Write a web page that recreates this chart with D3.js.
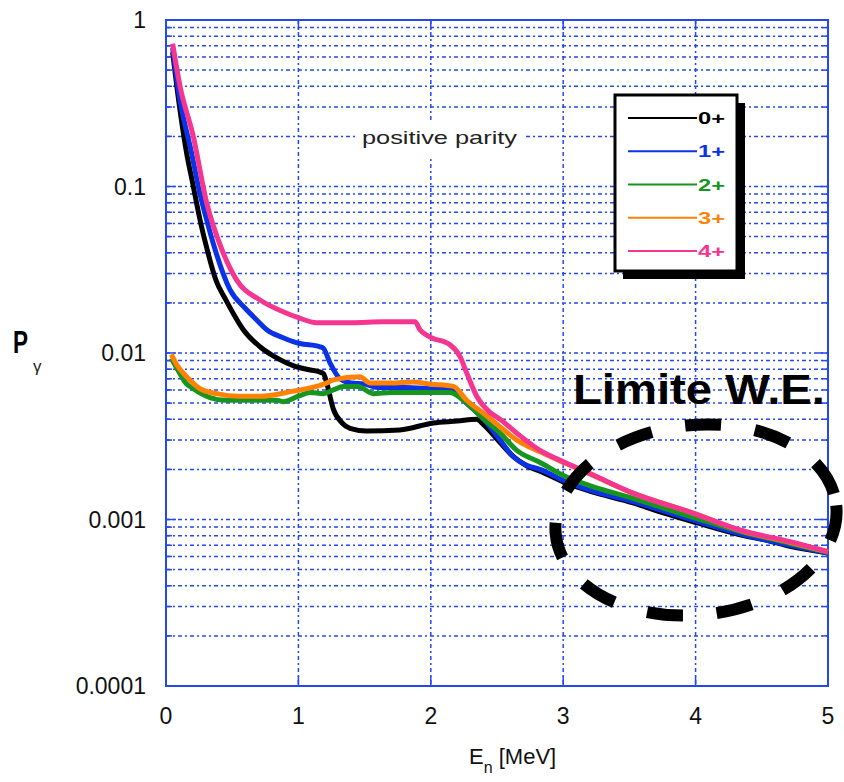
<!DOCTYPE html>
<html>
<head>
<meta charset="utf-8">
<script src="https://cdn.jsdelivr.net/npm/d3@7"></script>
<style>
  html, body { margin: 0; padding: 0; background: #fff; }
  svg { display: block; font-family: "Liberation Sans", Arial, Helvetica, sans-serif; }
</style>
</head>
<body>
<svg id="chart" width="844" height="782"></svg>
<script>
// ---- data ----
const seriesNames = ["0+", "1+", "2+", "3+", "4+"];
const seriesColors = ["#000000", "#0b32e6", "#16961f", "#ff8205", "#f5358f"];

const E_0plus = [0.05,0.10,0.156,0.2,0.257,0.31,0.38,0.45,0.506,0.584,0.71,0.82,0.912,0.96,1.09,1.16,1.19,1.214,1.264,1.33,1.39,1.516,1.767,2.019,2.2,2.347,2.4,2.523,2.62,2.724,2.825,3.026,3.2,3.527,3.75,4.0,4.335,4.537,4.713,5.0];
const P_0plus = [0.64,0.31,0.158,0.106,0.063,0.042,0.027,0.021,0.0174,0.0138,0.0109,0.0095,0.0087,0.0084,0.0079,0.0077,0.0075,0.0066,0.0046,0.0038,0.00353,0.0034,0.00345,0.0038,0.0039,0.0040,0.0037,0.0029,0.0024,0.0021,0.00195,0.00165,0.00148,0.00126,0.00110,0.00096,0.00081,0.00075,0.00069,0.00063];

const E_1plus = [0.05,0.10,0.194,0.25,0.307,0.37,0.483,0.6,0.685,0.761,0.88,0.961,1.012,1.163,1.188,1.239,1.314,1.40,1.5,1.6,1.8,2.0,2.17,2.27,2.4,2.523,2.62,2.724,2.825,3.026,3.2,3.527,4.0,4.335,4.713,5.0];
const P_1plus = [0.68,0.35,0.158,0.095,0.063,0.042,0.024,0.0185,0.0158,0.0138,0.0124,0.0117,0.0114,0.0109,0.0107,0.0087,0.0070,0.0066,0.0065,0.0062,0.0062,0.0061,0.0060,0.0050,0.0040,0.0030,0.0024,0.00212,0.00200,0.00168,0.00150,0.00128,0.00098,0.00082,0.00070,0.000632];

const E_2plus = [0.04,0.106,0.15,0.206,0.332,0.45,0.6,0.836,0.884,1.0,1.088,1.186,1.264,1.339,1.45,1.566,1.7,1.868,2.145,2.271,2.4,2.523,2.65,2.825,3.026,3.2,3.527,4.0,4.335,4.713,5.0];
const P_2plus = [0.0093,0.0075,0.0066,0.0061,0.0054,0.0052,0.0052,0.0052,0.0051,0.0055,0.0058,0.0057,0.0060,0.0063,0.0063,0.0057,0.0058,0.0058,0.0058,0.0050,0.0040,0.0033,0.0026,0.0022,0.00180,0.00160,0.00134,0.00102,0.00085,0.00072,0.000635];

const E_3plus = [0.04,0.081,0.156,0.257,0.383,0.55,0.71,0.961,1.012,1.214,1.264,1.465,1.541,1.7,1.868,2.0,2.17,2.271,2.422,2.523,2.65,2.825,3.026,3.2,3.527,4.0,4.335,4.713,5.0];
const P_3plus = [0.0098,0.0085,0.0072,0.0061,0.0057,0.0055,0.0055,0.0059,0.0060,0.0066,0.0069,0.0072,0.0066,0.0066,0.0067,0.0065,0.0063,0.0052,0.0042,0.0036,0.0030,0.00255,0.00216,0.00188,0.00144,0.00108,0.00086,0.00073,0.00064];

const E_4plus = [0.05,0.106,0.206,0.307,0.421,0.534,0.71,0.884,1.0,1.138,1.4,1.639,1.881,1.918,1.969,2.019,2.1,2.145,2.221,2.271,2.347,2.447,2.523,2.65,2.825,3.026,3.202,3.527,3.983,4.335,4.713,5.0];
const P_4plus = [0.72,0.40,0.20,0.080,0.042,0.0274,0.0208,0.0177,0.0163,0.0152,0.0152,0.0154,0.0154,0.0138,0.0128,0.0122,0.0117,0.0112,0.0095,0.0076,0.0055,0.0044,0.0040,0.0033,0.0026,0.00218,0.00189,0.00144,0.00109,0.000865,0.000736,0.00064];

const xTickValues = [0, 1, 2, 3, 4, 5];
const xTickLabels = ["0", "1", "2", "3", "4", "5"];
const yTickValues = [1, 0.1, 0.01, 0.001, 0.0001];
const yTickLabels = ["1", "0.1", "0.01", "0.001", "0.0001"];

const xAxisTitle = "E";
const xAxisTitleSub = "n";
const xAxisTitleUnit = " [MeV]";
const yAxisTitle = "P";
const yAxisTitleSub = "γ";
const annotationText = "positive parity";
const limitText = "Limite W.E.";

// ---- layout ----
const svg = d3.select("#chart");
const pLeft = 166, pRight = 828, pTop = 20, pBottom = 686;
const x = d3.scaleLinear().domain([0, 5]).range([pLeft, pRight]);
const y = d3.scaleLog().domain([0.0001, 1]).range([pBottom, pTop]);
const gridColor = "#2448ea";

// grid values
const minorY = [];
for (let e = -4; e < 0; e++) for (let k = 1; k <= 9; k++) {
  const v = k * Math.pow(10, e);
  if (v > 0.0001 * 1.0001 && v < 0.9999) minorY.push(v);
}
const gridX = [1, 2, 3, 4];
const isMajor = v => Math.abs(Math.log10(v) - Math.round(Math.log10(v))) < 1e-6;

const g = svg.append("g");

// horizontal dotted grid
g.selectAll("line.hg").data(minorY).enter().append("line")
  .attr("x1", pLeft).attr("x2", pRight)
  .attr("y1", d => y(d)).attr("y2", d => y(d))
  .attr("stroke", gridColor).attr("stroke-width", 1.5)
  .attr("stroke-dasharray", "4,3,2,3");
// vertical dotted grid
g.selectAll("line.vg").data(gridX).enter().append("line")
  .attr("x1", d => x(d)).attr("x2", d => x(d))
  .attr("y1", pTop).attr("y2", pBottom)
  .attr("stroke", gridColor).attr("stroke-width", 1.5)
  .attr("stroke-dasharray", "4,3,2,3");

// inward ticks (solid)
const yTickLen = d => (isMajor(d) ? 10 : 6);
g.selectAll("line.tl").data(minorY).enter().append("line")
  .attr("x1", pLeft).attr("x2", d => pLeft + yTickLen(d))
  .attr("y1", d => y(d)).attr("y2", d => y(d))
  .attr("stroke", gridColor).attr("stroke-width", 1.5);
g.selectAll("line.tr").data(minorY).enter().append("line")
  .attr("x1", pRight).attr("x2", d => pRight - yTickLen(d))
  .attr("y1", d => y(d)).attr("y2", d => y(d))
  .attr("stroke", gridColor).attr("stroke-width", 1.5);
g.selectAll("line.tb").data(gridX).enter().append("line")
  .attr("x1", d => x(d)).attr("x2", d => x(d))
  .attr("y1", pBottom).attr("y2", pBottom - 10)
  .attr("stroke", gridColor).attr("stroke-width", 1.5);
g.selectAll("line.tt").data(gridX).enter().append("line")
  .attr("x1", d => x(d)).attr("x2", d => x(d))
  .attr("y1", pTop).attr("y2", pTop + 10)
  .attr("stroke", gridColor).attr("stroke-width", 1.5);

// white box behind annotation
svg.append("rect").attr("x", 358).attr("y", 121).attr("width", 167).attr("height", 35).attr("fill", "#fff");
svg.append("text").attr("x", 362).attr("y", 144)
  .attr("font-size", 19).attr("fill", "#222")
  .attr("textLength", 155).attr("lengthAdjust", "spacingAndGlyphs")
  .text(annotationText);

// frame
svg.append("rect").attr("x", pLeft).attr("y", pTop)
  .attr("width", pRight - pLeft).attr("height", pBottom - pTop)
  .attr("fill", "none").attr("stroke", gridColor).attr("stroke-width", 2);

// y tick labels
svg.selectAll("text.yl").data(yTickValues).enter().append("text")
  .attr("x", 146).attr("y", d => y(d))
  .attr("dy", "0.36em").attr("text-anchor", "end")
  .attr("font-size", 23).attr("fill", "#111")
  .text((d, i) => yTickLabels[i]);
// x tick labels
svg.selectAll("text.xl").data(xTickValues).enter().append("text")
  .attr("x", d => x(d)).attr("y", 716)
  .attr("dy", "0.36em").attr("text-anchor", "middle")
  .attr("font-size", 23).attr("fill", "#111")
  .text((d, i) => xTickLabels[i]);

// axis titles
const xt = svg.append("text").attr("x", 469).attr("y", 764).attr("font-size", 22).attr("fill", "#111");
xt.append("tspan").text(xAxisTitle);
xt.append("tspan").attr("font-size", 16).attr("dy", 9).text(xAxisTitleSub);
xt.append("tspan").attr("dy", -9).text(xAxisTitleUnit);

svg.append("text").attr("x", 13).attr("y", 353)
  .attr("font-size", 32).attr("font-weight", "bold").attr("fill", "#000")
  .attr("textLength", 15).attr("lengthAdjust", "spacingAndGlyphs")
  .text(yAxisTitle);
svg.append("text").attr("x", 33).attr("y", 372)
  .attr("font-size", 17).attr("fill", "#222")
  .text(yAxisTitleSub);

// curves
const seriesE = [E_0plus, E_1plus, E_2plus, E_3plus, E_4plus];
const seriesP = [P_0plus, P_1plus, P_2plus, P_3plus, P_4plus];
const line = d3.line().x(d => x(d[0])).y(d => y(d[1])).curve(d3.curveMonotoneX);
seriesNames.forEach((name, i) => {
  const pts = seriesE[i].map((e, j) => [e, seriesP[i][j]]);
  svg.append("path").datum(pts)
    .attr("d", line)
    .attr("fill", "none")
    .attr("stroke", seriesColors[i])
    .attr("stroke-width", 5)
    .attr("stroke-linejoin", "round")
    .attr("stroke-linecap", "butt");
});

// legend
const lg = svg.append("g");
lg.append("rect").attr("x", 623).attr("y", 103).attr("width", 122).attr("height", 176).attr("fill", "#000");
lg.append("rect").attr("x", 615).attr("y", 95).attr("width", 122).attr("height", 176)
  .attr("fill", "#fff").attr("stroke", "#000").attr("stroke-width", 3);
const legendY = d3.scalePoint().domain(seriesNames).range([118, 251]);
seriesNames.forEach((name, i) => {
  lg.append("line").attr("x1", 628).attr("x2", 697)
    .attr("y1", legendY(name)).attr("y2", legendY(name))
    .attr("stroke", seriesColors[i]).attr("stroke-width", 2);
  lg.append("text").attr("x", 698).attr("y", legendY(name)).attr("dy", "0.36em")
    .attr("font-size", 17).attr("font-weight", "bold").attr("fill", seriesColors[i])
    .attr("textLength", 27).attr("lengthAdjust", "spacingAndGlyphs")
    .text(name);
});

// annotation: Limite W.E. + dashed ellipse
svg.append("text").attr("x", 573).attr("y", 404)
  .attr("font-size", 42).attr("font-weight", "bold").attr("fill", "#000")
  .attr("textLength", 252).attr("lengthAdjust", "spacingAndGlyphs")
  .text(limitText);
svg.append("ellipse")
  .attr("cx", 696).attr("cy", 520).attr("rx", 141).attr("ry", 95)
  .attr("transform", "rotate(-6 696 520)")
  .attr("fill", "none").attr("stroke", "#000").attr("stroke-width", 12)
  .attr("stroke-dasharray", "36,34");
</script>
</body>
</html>
